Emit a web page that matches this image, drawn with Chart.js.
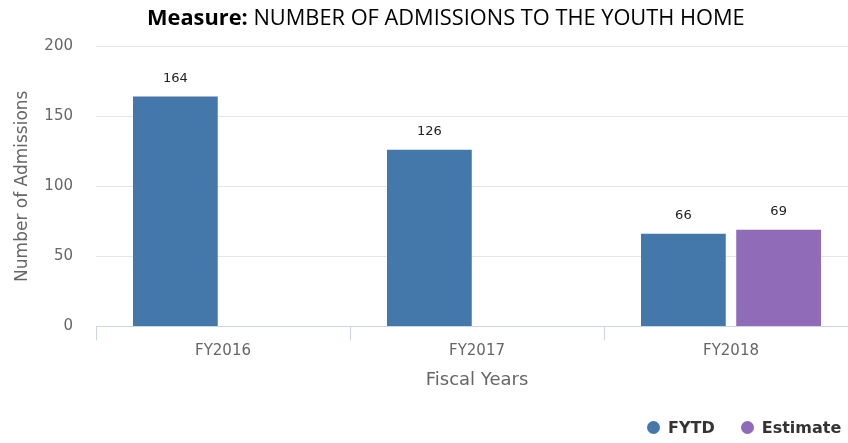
<!DOCTYPE html>
<html lang="en">
<head>
    <meta charset="UTF-8">
    <title>Number of Admissions to the Youth Home</title>
    <script src="https://cdn.jsdelivr.net/npm/chart.js"></script>
    <style>
        html, body { margin: 0; padding: 0; background: #fff; overflow: hidden; }
        #wrap { position: relative; width: 858px; height: 443px; }
        #titulo {
            position: absolute; left: 147px; top: 2px; white-space: nowrap;
            font-family: "Open Sans", sans-serif; font-size: 21.8px; color: #000;
        }
        #titulo b { font-weight: 700; }
        #leyenda {
            position: absolute; top: 418px; left: 647px; white-space: nowrap;
            font-family: "DejaVu Sans", sans-serif; font-size: 16px; font-weight: bold; color: #333;
            line-height: 20px;
        }
        #leyenda span.item { display: inline-block; margin-right: 26px; }
        #leyenda span.punto {
            display: inline-block; width: 13px; height: 13px; border-radius: 50%;
            vertical-align: -1px; margin-right: 8px;
        }
    </style>
</head>
<body>
    <div id="wrap">
        <canvas id="grafico" width="858" height="443"></canvas>
        <div id="titulo"><b>Measure:</b> NUMBER OF ADMISSIONS TO THE YOUTH HOME</div>
        <div id="leyenda"></div>
    </div>
    <script>
        // datos
        const anios = ['FY2016', 'FY2017', 'FY2018'];
        const fytd = [164, 126, 66];
        const estimado = [null, null, 69];
        const ticksY = [0, 50, 100, 150, 200];

        // etiquetas con el valor encima de cada barra
        const etiquetasValor = {
            id: 'etiquetasValor',
            afterDatasetsDraw(chart) {
                const ctx = chart.ctx;
                ctx.save();
                ctx.font = '13px "DejaVu Sans"';
                ctx.fillStyle = '#222';
                ctx.textAlign = 'center';
                ctx.textBaseline = 'middle';
                chart.data.datasets.forEach((ds, i) => {
                    chart.getDatasetMeta(i).data.forEach((bar, j) => {
                        if (ds.data[j] == null) return;
                        ctx.fillText(ds.data[j], bar.x, bar.y - 18);
                    });
                });
                ctx.restore();
            }
        };

        const grafico = new Chart(document.getElementById('grafico'), {
            type: 'bar',
            data: {
                labels: anios,
                datasets: [
                    { label: 'FYTD', data: fytd, backgroundColor: '#4477AA' },
                    { label: 'Estimate', data: estimado, backgroundColor: '#8F6BB8' }
                ]
            },
            options: {
                responsive: false,
                animation: false,
                layout: { padding: { top: 46, left: 0, right: 0, bottom: 52 } },
                datasets: { bar: { categoryPercentage: 0.75, barPercentage: 0.89 } },
                plugins: {
                    tooltip: { enabled: false },
                    legend: { display: false }
                },
                scales: {
                    x: {
                        grid: {
                            drawOnChartArea: false,
                            drawTicks: true,
                            tickLength: 14,
                            color: '#ccd6eb'
                        },
                        border: { color: '#ccd6eb' },
                        ticks: {
                            padding: 2,
                            color: '#666',
                            font: { family: 'DejaVu Sans', size: 15 }
                        },
                        title: {
                            display: true,
                            text: 'Fiscal Years',
                            color: '#666',
                            font: { family: 'DejaVu Sans', size: 18 },
                            padding: { top: 7, bottom: 0 }
                        }
                    },
                    y: {
                        min: 0,
                        max: 200,
                        afterBuildTicks(scale) {
                            scale.ticks = ticksY.map(v => ({ value: v }));
                        },
                        afterFit(scale) { scale.width = 96; },
                        grid: { color: '#e6e6e6', drawTicks: false },
                        border: { display: false },
                        ticks: {
                            padding: 23,
                            color: '#666',
                            font: { family: 'DejaVu Sans', size: 15 }
                        },
                        title: {
                            display: true,
                            text: 'Number of Admissions',
                            color: '#666',
                            font: { family: 'DejaVu Sans', size: 17 },
                            padding: { top: 12, bottom: 0 }
                        }
                    }
                }
            },
            plugins: [etiquetasValor]
        });

        // leyenda en html a partir de las series
        document.getElementById('leyenda').innerHTML = grafico.data.datasets.map(ds =>
            `<span class="item"><span class="punto" style="background:${ds.backgroundColor}"></span>${ds.label}</span>`
        ).join('');
    </script>
</body>
</html>
